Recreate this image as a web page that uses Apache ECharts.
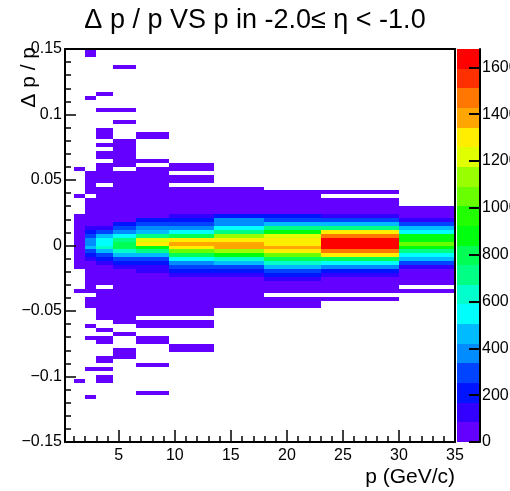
<!DOCTYPE html>
<html><head><meta charset="utf-8">
<script src="https://cdn.jsdelivr.net/npm/echarts@6/dist/echarts.min.js"></script>
<style>html,body{margin:0;padding:0;background:#fff}#c{width:510px;height:491px}</style>
</head><body><div id="c"></div>
<script>
// p bin edges (GeV/c)
const pEdges = [1, 2, 3, 4.5, 6.5, 9.5, 13.5, 18, 23, 30, 35];
// Δp/p bin width; bin j covers [j*w, (j+1)*w]
const dppBinWidth = 0.003;
// first Δp/p bin index of each column's count list
const startBin = [-6, -16, -19, -20, -21, -27, -16, -16, -14, -12];
// counts per Δp/p bin, from startBin upward
const countsP1to2 = [4, 9, 15, 24, 38, 52, 66, 71, 58, 41, 27, 16, 8, 3];
const countsP2to3 = [3, 5, 6, 0, 9, 12, 15, 19, 24, 31, 42, 63, 125, 215, 300, 455, 380, 375, 295, 210, 120, 66, 45, 33, 25, 18, 14, 10, 0, 7, 6, 4, 3, 2, 1];
const countsP3to4p5 = [2, 3, 4, 5, 7, 9, 11, 13, 0, 20, 26, 33, 44, 61, 130, 212, 298, 460, 625, 550, 545, 465, 290, 128, 72, 52, 38, 29, 22, 17, 13, 10, 8, 6, 0, 5, 4, 3, 3, 2, 0, 2, 1, 0, 1, 0, 1, 1, 1];
const countsP4p5to6p5 = [2, 3, 4, 5, 6, 8, 10, 13, 16, 20, 25, 32, 43, 64, 127, 208, 296, 462, 632, 805, 798, 715, 548, 380, 292, 214, 78, 55, 41, 31, 24, 19, 15, 12, 9, 7, 6, 5, 4, 0, 3, 2, 2, 2, 1, 1, 1];
const countsP6p5to9p5 = [1, 2, 0, 3, 4, 6, 7, 9, 12, 15, 19, 24, 33, 52, 122, 131, 205, 300, 458, 720, 880, 1300, 1225, 705, 455, 380, 285, 212, 77, 51, 37, 28, 21, 16, 13, 10, 8, 6, 5, 3, 2, 0, 1, 0, 0, 0, 0, 0, 1, 1];
const countsP9p5to13p5 = [1, 1, 0, 0, 0, 0, 2, 2, 0, 3, 5, 6, 8, 11, 14, 18, 23, 30, 45, 118, 205, 290, 375, 550, 795, 1045, 1295, 1380, 1305, 790, 540, 372, 288, 200, 115, 62, 44, 33, 25, 19, 14, 10, 0, 5, 4, 0, 2, 1];
const countsP13p5to18 = [3, 6, 9, 13, 18, 24, 34, 52, 125, 210, 300, 460, 630, 880, 1140, 1385, 1390, 1300, 1135, 715, 545, 380, 375, 205, 70, 48, 33, 22, 14, 8, 4];
const countsP18to23 = [2, 3, 4, 0, 8, 14, 40, 122, 215, 298, 455, 625, 795, 1050, 1300, 1385, 1305, 1298, 1215, 880, 712, 460, 292, 208, 66, 43, 27, 16, 9, 4];
const countsP23to30 = [2, 0, 6, 12, 24, 48, 130, 215, 375, 548, 800, 1300, 1470, 1650, 1672, 1645, 1475, 1305, 715, 462, 295, 128, 60, 35, 18, 8, 0, 2];
const countsP30to35 = [3, 0, 9, 17, 30, 55, 120, 290, 460, 545, 715, 885, 1050, 880, 875, 550, 458, 292, 118, 52, 22, 6];
const columnCounts = [countsP1to2, countsP2to3, countsP3to4p5, countsP4p5to6p5, countsP6p5to9p5,
  countsP9p5to13p5, countsP13p5to18, countsP18to23, countsP23to30, countsP30to35];
// isolated entries: [column, Δp/p bin, count]
const outliers = [
  [0, 12, 1], [0, 19, 1], [0, -12, 1], [0, -35, 1],
  [1, 37, 1], [1, 48, 1], [1, 49, 1], [1, -21, 1], [1, -24, 1], [1, -32, 1], [1, -39, 1],
  [2, 34, 1], [2, 38, 1], [2, -22, 1], [2, -24, 1], [2, -25, 1], [2, -29, 1], [2, -30, 1], [2, -32, 1], [2, -34, 1], [2, -35, 1],
  [3, 31, 1], [3, 34, 1], [3, 45, 1], [3, -23, 1], [3, -27, 1], [3, -28, 1], [3, -29, 1],
  [4, -24, 1], [4, -25, 1], [4, -31, 1], [4, -38, 1]
];
const zMax = 1678;
const nContours = 20;
const palette = ['#6300ff','#3300ff','#0014ff','#0044ff','#008bff','#00bbff','#00fffc','#00ffcc','#00ff85','#00ff55',
  '#00ff0e','#22ff00','#69ff00','#99ff00','#e0ff00','#ffee00','#ffa700','#ff7700','#ff3000','#ff0000'];
const xTicks = [5, 10, 15, 20, 25, 30, 35];
const yTicks = [-0.15, -0.1, -0.05, 0, 0.05, 0.1, 0.15];
const zTicks = [0, 200, 400, 600, 800, 1000, 1200, 1400, 1600];

const xMinor = [];
for (let v = 1; v < 35; v++) if (v % 5) xMinor.push(v);
const yMinor = [];
for (let k = -14; k <= 14; k++) if (k % 5) yMinor.push(k / 100);

const cells = [];
columnCounts.forEach((arr, c) => {
  arr.forEach((n, k) => {
    if (n > 0) {
      const j = startBin[c] + k;
      cells.push([pEdges[c], pEdges[c + 1], j * dppBinWidth, (j + 1) * dppBinWidth, n]);
    }
  });
});
outliers.forEach(([c, j, n]) => cells.push([pEdges[c], pEdges[c + 1], j * dppBinWidth, (j + 1) * dppBinWidth, n]));

const bands = palette.map((col, i) => [i * zMax / nContours, (i + 1) * zMax / nContours, i]);

const FONT = '"Liberation Sans", Arial, Helvetica, sans-serif';
const rectItem = (api, a, b, fill) => {
  const x0 = Math.round(a[0]), y0 = Math.round(a[1]), x1 = Math.round(b[0]), y1 = Math.round(b[1]);
  return { type: 'rect', shape: { x: x0, y: y0, width: x1 - x0, height: y1 - y0 }, style: { fill: fill } };
};
const fmtY = v => {
  const r = Math.round(v * 100) / 100;
  const s = String(Math.abs(r));
  return r < 0 ? '\u2212' + s : s;
};
const line2 = { onZero: false, lineStyle: { color: '#000', width: 2 } };

const chart = echarts.init(document.getElementById('c'), null, { renderer: 'canvas' });
chart.setOption({
  animation: false,
  backgroundColor: '#fff',
  title: { text: 'Δ p / p VS p in -2.0≤ η < -1.0', left: 'center', top: 2,
    textStyle: { fontFamily: FONT, fontSize: 27, fontWeight: 'normal', color: '#000' } },
  grid: [
    { left: 65, top: 49, width: 390, height: 393, outerBoundsMode: 'none', containLabel: false },
    { left: 457, top: 49, width: 23, height: 393, outerBoundsMode: 'none', containLabel: false }
  ],
  xAxis: [
    { type: 'value', gridIndex: 0, min: 0.2, max: 35, position: 'bottom', z: 10,
      axisLine: line2,
      axisTick: { inside: true, length: 12, customValues: xTicks, lineStyle: { color: '#000', width: 1.5 } },
      axisLabel: { customValues: xTicks, margin: 6, color: '#000', fontSize: 16, fontFamily: FONT },
      splitLine: { show: false } },
    { type: 'value', gridIndex: 0, min: 0.2, max: 35, position: 'bottom', z: 10,
      axisLine: { show: false, onZero: false },
      axisTick: { inside: true, length: 6, customValues: xMinor, lineStyle: { color: '#000', width: 1.5 } },
      axisLabel: { show: false }, splitLine: { show: false } },
    { type: 'value', gridIndex: 0, min: 0.2, max: 35, position: 'top', z: 10,
      axisLine: line2,
      axisTick: { show: false }, axisLabel: { show: false }, splitLine: { show: false } },
    { type: 'value', gridIndex: 1, min: 0, max: 1, show: false, axisLine: { onZero: false } }
  ],
  yAxis: [
    { type: 'value', gridIndex: 0, min: -0.15, max: 0.15, position: 'left', z: 10,
      axisLine: line2,
      axisTick: { inside: true, length: 11, customValues: yTicks, lineStyle: { color: '#000', width: 1.5 } },
      axisLabel: { customValues: yTicks, formatter: fmtY, margin: 3, color: '#000', fontSize: 16, fontFamily: FONT },
      splitLine: { show: false } },
    { type: 'value', gridIndex: 0, min: -0.15, max: 0.15, position: 'left', z: 10,
      axisLine: { show: false, onZero: false },
      axisTick: { inside: true, length: 6, customValues: yMinor, lineStyle: { color: '#000', width: 1.5 } },
      axisLabel: { show: false }, splitLine: { show: false } },
    { type: 'value', gridIndex: 0, min: -0.15, max: 0.15, position: 'right', z: 10,
      axisLine: line2,
      axisTick: { show: false }, axisLabel: { show: false }, splitLine: { show: false } },
    { type: 'value', gridIndex: 1, min: 0, max: zMax, position: 'right', z: 10,
      axisLine: line2,
      axisTick: { inside: true, length: 11, customValues: zTicks, lineStyle: { color: '#000', width: 2 } },
      axisLabel: { customValues: zTicks, formatter: v => String(v), margin: 2, color: '#000', fontSize: 16, fontFamily: FONT },
      splitLine: { show: false } }
  ],
  series: [
    { type: 'custom', xAxisIndex: 0, yAxisIndex: 0, data: cells, encode: { x: [0, 1], y: [2, 3] }, clip: true,
      renderItem: (params, api) => {
        const a = api.coord([api.value(0), api.value(3)]);
        const b = api.coord([api.value(1), api.value(2)]);
        const band = Math.min(nContours - 1, Math.floor(api.value(4) / (zMax / nContours)));
        return rectItem(api, a, b, palette[band]);
      } },
    { type: 'custom', xAxisIndex: 3, yAxisIndex: 3, data: bands, encode: { y: [0, 1] },
      renderItem: (params, api) => {
        const a = api.coord([0, api.value(1)]);
        const b = api.coord([1, api.value(0)]);
        return rectItem(api, a, b, palette[api.value(2)]);
      } }
  ],
  graphic: [
    { type: 'text', x: 29, y: 47, rotation: Math.PI / 2,
      style: { text: 'Δ p / p', font: '21px ' + FONT, fill: '#000', textAlign: 'right', textVerticalAlign: 'middle' } },
    { type: 'text', x: 455, y: 477,
      style: { text: 'p (GeV/c)', font: '21px ' + FONT, fill: '#000', textAlign: 'right', textVerticalAlign: 'middle' } }
  ]
});
</script></body></html>
